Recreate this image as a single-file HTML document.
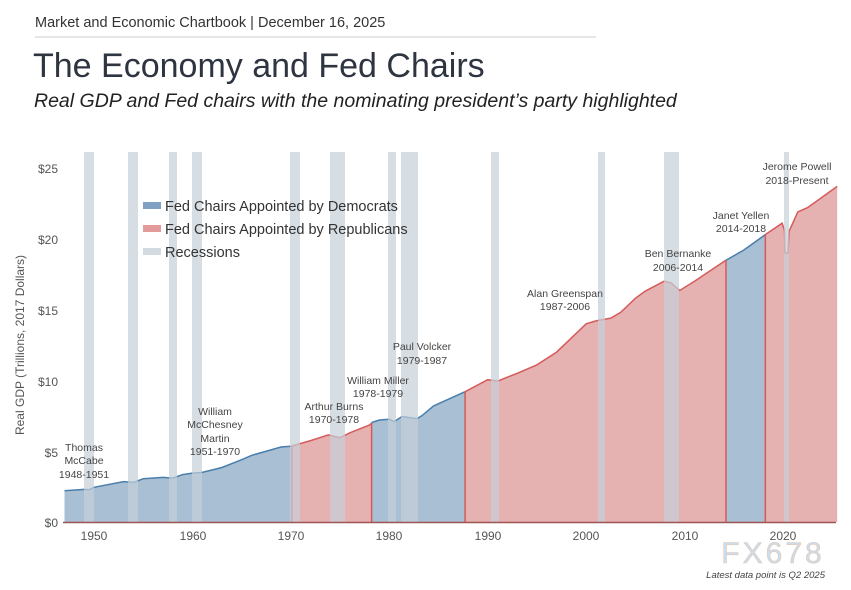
<!DOCTYPE html>
<html><head><meta charset="utf-8"><style>
html,body{margin:0;padding:0;background:#fff;width:851px;height:590px;overflow:hidden}
svg{display:block;font-family:"Liberation Sans",sans-serif}
</style></head><body>
<svg id="s" width="851" height="590" xmlns="http://www.w3.org/2000/svg">
<text x="35" y="27" font-size="14.5" fill="#333">Market and Economic Chartbook | December 16, 2025</text>
<line x1="35" y1="37" x2="596" y2="37" stroke="#c8ccd2" stroke-width="1"/>
<text x="33" y="77" font-size="34" fill="#2e3540">The Economy and Fed Chairs</text>
<text x="34" y="107" font-size="19.5" font-style="italic" fill="#222">Real GDP and Fed chairs with the nominating president’s party highlighted</text>
<g id="plot"></g>
<g font-size="12" fill="#555" text-anchor="end">
<text x="58" y="173">$25</text><text x="58" y="244">$20</text><text x="58" y="315">$15</text>
<text x="58" y="386">$10</text><text x="58" y="457">$5</text><text x="58" y="527">$0</text>
</g>
<text transform="translate(24,345) rotate(-90)" font-size="12" fill="#555" text-anchor="middle">Real GDP (Trillions, 2017 Dollars)</text>
<g font-size="12" fill="#555" text-anchor="middle">
<text x="94" y="540">1950</text><text x="193" y="540">1960</text><text x="291" y="540">1970</text>
<text x="389" y="540">1980</text><text x="488" y="540">1990</text><text x="586" y="540">2000</text>
<text x="685" y="540">2010</text><text x="783" y="540">2020</text>
</g>
<g font-size="10.5" fill="#444" text-anchor="middle">
<text x="84" y="451">Thomas</text><text x="84" y="464">McCabe</text><text x="84" y="478">1948-1951</text>
<text x="215" y="415">William</text><text x="215" y="428">McChesney</text><text x="215" y="442">Martin</text><text x="215" y="455">1951-1970</text>
<text x="334" y="410">Arthur Burns</text><text x="334" y="423">1970-1978</text>
<text x="378" y="384">William Miller</text><text x="378" y="397">1978-1979</text>
<text x="422" y="350">Paul Volcker</text><text x="422" y="364">1979-1987</text>
<text x="565" y="297">Alan Greenspan</text><text x="565" y="310">1987-2006</text>
<text x="678" y="257">Ben Bernanke</text><text x="678" y="271">2006-2014</text>
<text x="741" y="219">Janet Yellen</text><text x="741" y="232">2014-2018</text>
<text x="797" y="170">Jerome Powell</text><text x="797" y="184">2018-Present</text>
</g>
<rect x="143" y="202" width="18" height="7" fill="#7fa1c2"/>
<rect x="143" y="225" width="18" height="7" fill="#e39a9a"/>
<rect x="143" y="248" width="18" height="7" fill="#d3dbe0"/>
<g font-size="14.5" fill="#333"><text x="165" y="211">Fed Chairs Appointed by Democrats</text>
<text x="165" y="234">Fed Chairs Appointed by Republicans</text><text x="165" y="257">Recessions</text></g>
<text x="773" y="563" font-size="30" fill="#c9ddf0" stroke="#e8c8b0" stroke-width="0.6" text-anchor="middle" letter-spacing="3">FX678</text>
<text x="825" y="578" font-size="9.5" font-style="italic" fill="#444" text-anchor="end">Latest data point is Q2 2025</text>
</svg>
<script>
var d=[[1947,2.2],[1949,2.3],[1949.5,2.28],[1950,2.45],[1953,2.85],[1954,2.8],[1955,3.05],[1957,3.15],[1958,3.1],[1959,3.35],[1960,3.45],[1961,3.5],[1963,3.85],[1965,4.4],[1966,4.7],[1969,5.3],[1970,5.35],[1972,5.75],[1973.8,6.15],[1975,5.95],[1976,6.3],[1978,6.85],[1978.3,7.05],[1979,7.2],[1980,7.25],[1980.5,7.1],[1981.3,7.45],[1982.8,7.3],[1983.3,7.5],[1984.5,8.2],[1987.7,9.2],[1990,10.05],[1991,9.95],[1993,10.5],[1995,11.1],[1997,12.0],[2000,14.0],[2001,14.2],[2002.5,14.4],[2003.5,14.8],[2005,15.8],[2006,16.3],[2007.9,17.0],[2008.6,16.9],[2009.5,16.35],[2011,17.0],[2014,18.4],[2014.5,18.6],[2016,19.2],[2018,20.2],[2019.9,21.1],[2020.15,20.6],[2020.2,19.0],[2020.5,19.0],[2020.6,20.5],[2021.5,21.9],[2022.5,22.2],[2025.5,23.7]];
function X(y){return 64.5+(y-1947)*9.843}function Y(v){return 522-v*14.16}
function val(t){for(var i=1;i<d.length;i++)if(t<=d[i][0]){var a=d[i-1],b=d[i];return a[1]+(b[1]-a[1])*(t-a[0])/(b[0]-a[0]);}return d[d.length-1][1]}
var segs=[[1947,1970.1,'b'],[1970.1,1978.2,'r'],[1978.2,1987.7,'b'],[1987.7,2014.2,'r'],[2014.2,2018.2,'b'],[2018.2,2025.5,'r']];
var g=document.getElementById('plot'),h='';
segs.forEach(function(s){var pts=[[s[0],val(s[0])]];d.forEach(function(p){if(p[0]>s[0]&&p[0]<s[1])pts.push(p)});pts.push([s[1],val(s[1])]);
var line=pts.map(function(p){return X(p[0]).toFixed(1)+','+Y(p[1]).toFixed(1)}).join(' ');
var fill=s[2]=='b'?'#a9bfd3':'#e6b1b1',lc=s[2]=='b'?'#4a7eab':'#d55b5b';
h+='<polygon points="'+X(s[0]).toFixed(1)+',522 '+line+' '+X(s[1]).toFixed(1)+',522" fill="'+fill+'"/>';
h+='<polyline points="'+line+'" fill="none" stroke="'+lc+'" stroke-width="1.5"/>';
if(s[0]>1947)h+='<line x1="'+X(s[0])+'" y1="522" x2="'+X(s[0])+'" y2="'+Y(val(s[0]))+'" stroke="#d55b5b" stroke-width="1.5"/>';});
[[84,94],[128,138],[169,177],[192,202],[290,300],[330,345],[388,396],[401,418],[491,499],[598,605],[664,679],[784,789]].forEach(function(r){h+='<rect x="'+r[0]+'" y="152" width="'+(r[1]-r[0])+'" height="370" fill="#c5d0d8" opacity="0.7"/>'});
h+='<line x1="63" y1="522.5" x2="836" y2="522.5" stroke="#a05555" stroke-width="1.5"/>';
g.innerHTML=h;
</script>
</body></html>
